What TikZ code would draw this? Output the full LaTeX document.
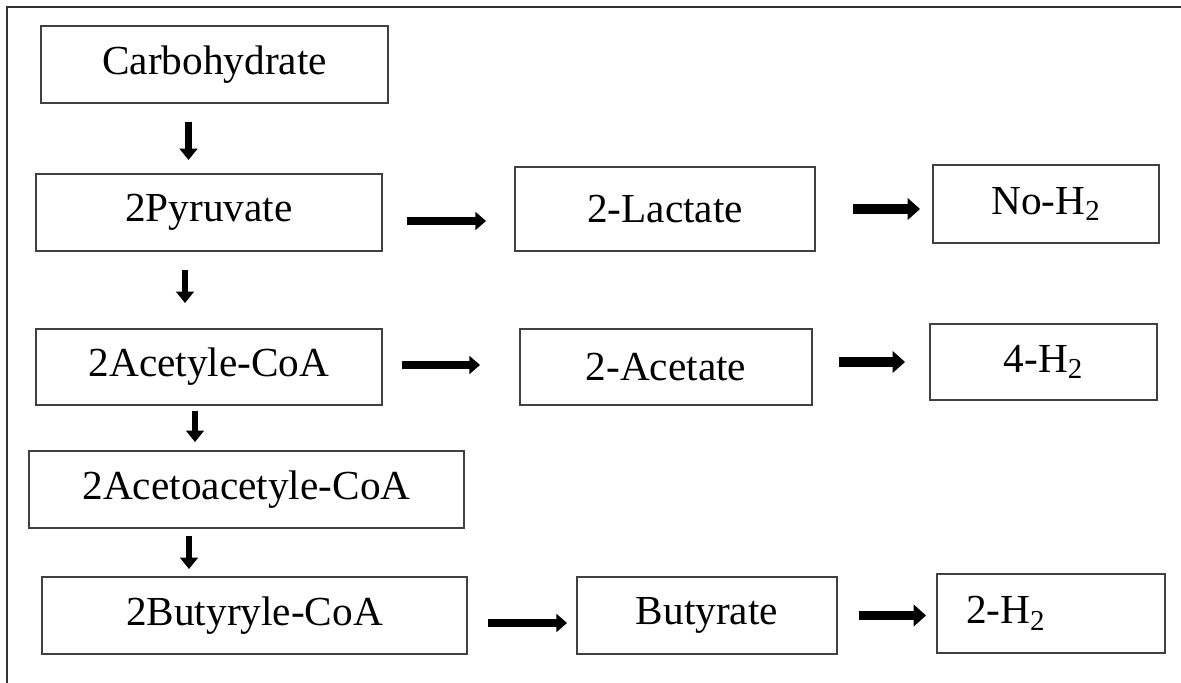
\documentclass[tikz,border=0pt]{standalone}
\usepackage{fontspec}
\setmainfont{Liberation Serif}
\usetikzlibrary{arrows.meta}
\tikzset{
  box/.style={draw=black!75, line width=1.1pt, inner sep=0pt, font=\fontsize{23.5}{28}\selectfont},
  flow/.style={-{Triangle[length=6pt,width=10pt]}, line width=4.2pt},
  bigflow/.style={-{Triangle[length=7pt,width=12pt]}, line width=5.2pt},
  downflow/.style={-{Triangle[length=6.5pt,width=10pt]}, line width=3.6pt},
}
\begin{document}
\begin{tikzpicture}
\useasboundingbox (0,0) rectangle (23.62,-13.66);
\draw[black!80, line width=1.5pt] (0.14,-13.66) -- (0.14,-0.14) -- (23.62,-0.14);
\node[box, minimum width=6.94cm, minimum height=1.54cm] (carb) at (4.29,-1.29) {Carbohydrate};
\node[box, minimum width=6.92cm, minimum height=1.54cm] (pyr) at (4.18,-4.25) {2Pyruvate};
\node[box, minimum width=6.00cm, minimum height=1.68cm] (lac) at (13.30,-4.18) {2-Lactate};
\node[box, minimum width=4.52cm, minimum height=1.56cm] (noh) at (20.92,-4.08) {No-H\textsubscript{2}};
\node[box, minimum width=6.92cm, minimum height=1.52cm] (acoa) at (4.18,-7.34) {2Acetyle-CoA};
\node[box, minimum width=5.84cm, minimum height=1.52cm] (acet) at (13.32,-7.34) {2-Acetate};
\node[box, minimum width=4.54cm, minimum height=1.52cm] (fourh) at (20.87,-7.24) {4-H\textsubscript{2}};
\node[box, minimum width=8.70cm, minimum height=1.54cm] (aacoa) at (4.93,-9.79) {2Acetoacetyle-CoA};
\node[box, minimum width=8.50cm, minimum height=1.54cm] (bcoa) at (5.09,-12.31) {2Butyryle-CoA};
\node[box, minimum width=5.20cm, minimum height=1.54cm] (but) at (14.14,-12.31) {Butyrate};
\node[box, minimum height=1.58cm, inner xsep=0.58cm, text width=3.40cm, align=left] (twoh) at (21.02,-12.27) {2-H\textsubscript{2}};
\draw[downflow, shorten <=0.36cm, shorten >=0.26cm] ([xshift=-0.52cm]carb.south) -- ([xshift=-0.52cm]carb.south |- pyr.north);
\draw[downflow, shorten <=0.36cm, shorten >=0.5cm] ([xshift=-0.48cm]pyr.south) -- ([xshift=-0.48cm]pyr.south |- acoa.north);
\draw[downflow, shorten <=0.1cm, shorten >=0.16cm] ([xshift=-0.28cm]acoa.south) -- ([xshift=-0.28cm]acoa.south |- aacoa.north);
\draw[downflow, shorten <=0.14cm, shorten >=0.14cm] ([xshift=-1.15cm]aacoa.south) -- ([xshift=-1.15cm]aacoa.south |- bcoa.north);
\draw[flow, shorten <=0.48cm, shorten >=0.56cm] ([yshift=-0.17cm]pyr.east) -- ([yshift=-0.17cm]pyr.east -| lac.west);
\draw[flow, shorten <=0.38cm, shorten >=0.78cm] ([yshift=0.04cm]acoa.east) -- ([yshift=0.04cm]acoa.east -| acet.west);
\draw[flow, shorten <=0.4cm, shorten >=0.18cm] ([yshift=-0.15cm]bcoa.east) -- ([yshift=-0.15cm]bcoa.east -| but.west);
\draw[bigflow, shorten <=0.74cm, shorten >=0.24cm] (lac.east) -- (lac.east -| noh.west);
\draw[bigflow, shorten <=0.52cm, shorten >=0.48cm] ([yshift=0.1cm]acet.east) -- ([yshift=0.1cm]acet.east -| fourh.west);
\draw[bigflow, shorten <=0.42cm, shorten >=0.2cm] (but.east) -- (but.east -| twoh.west);
\end{tikzpicture}
\end{document}
